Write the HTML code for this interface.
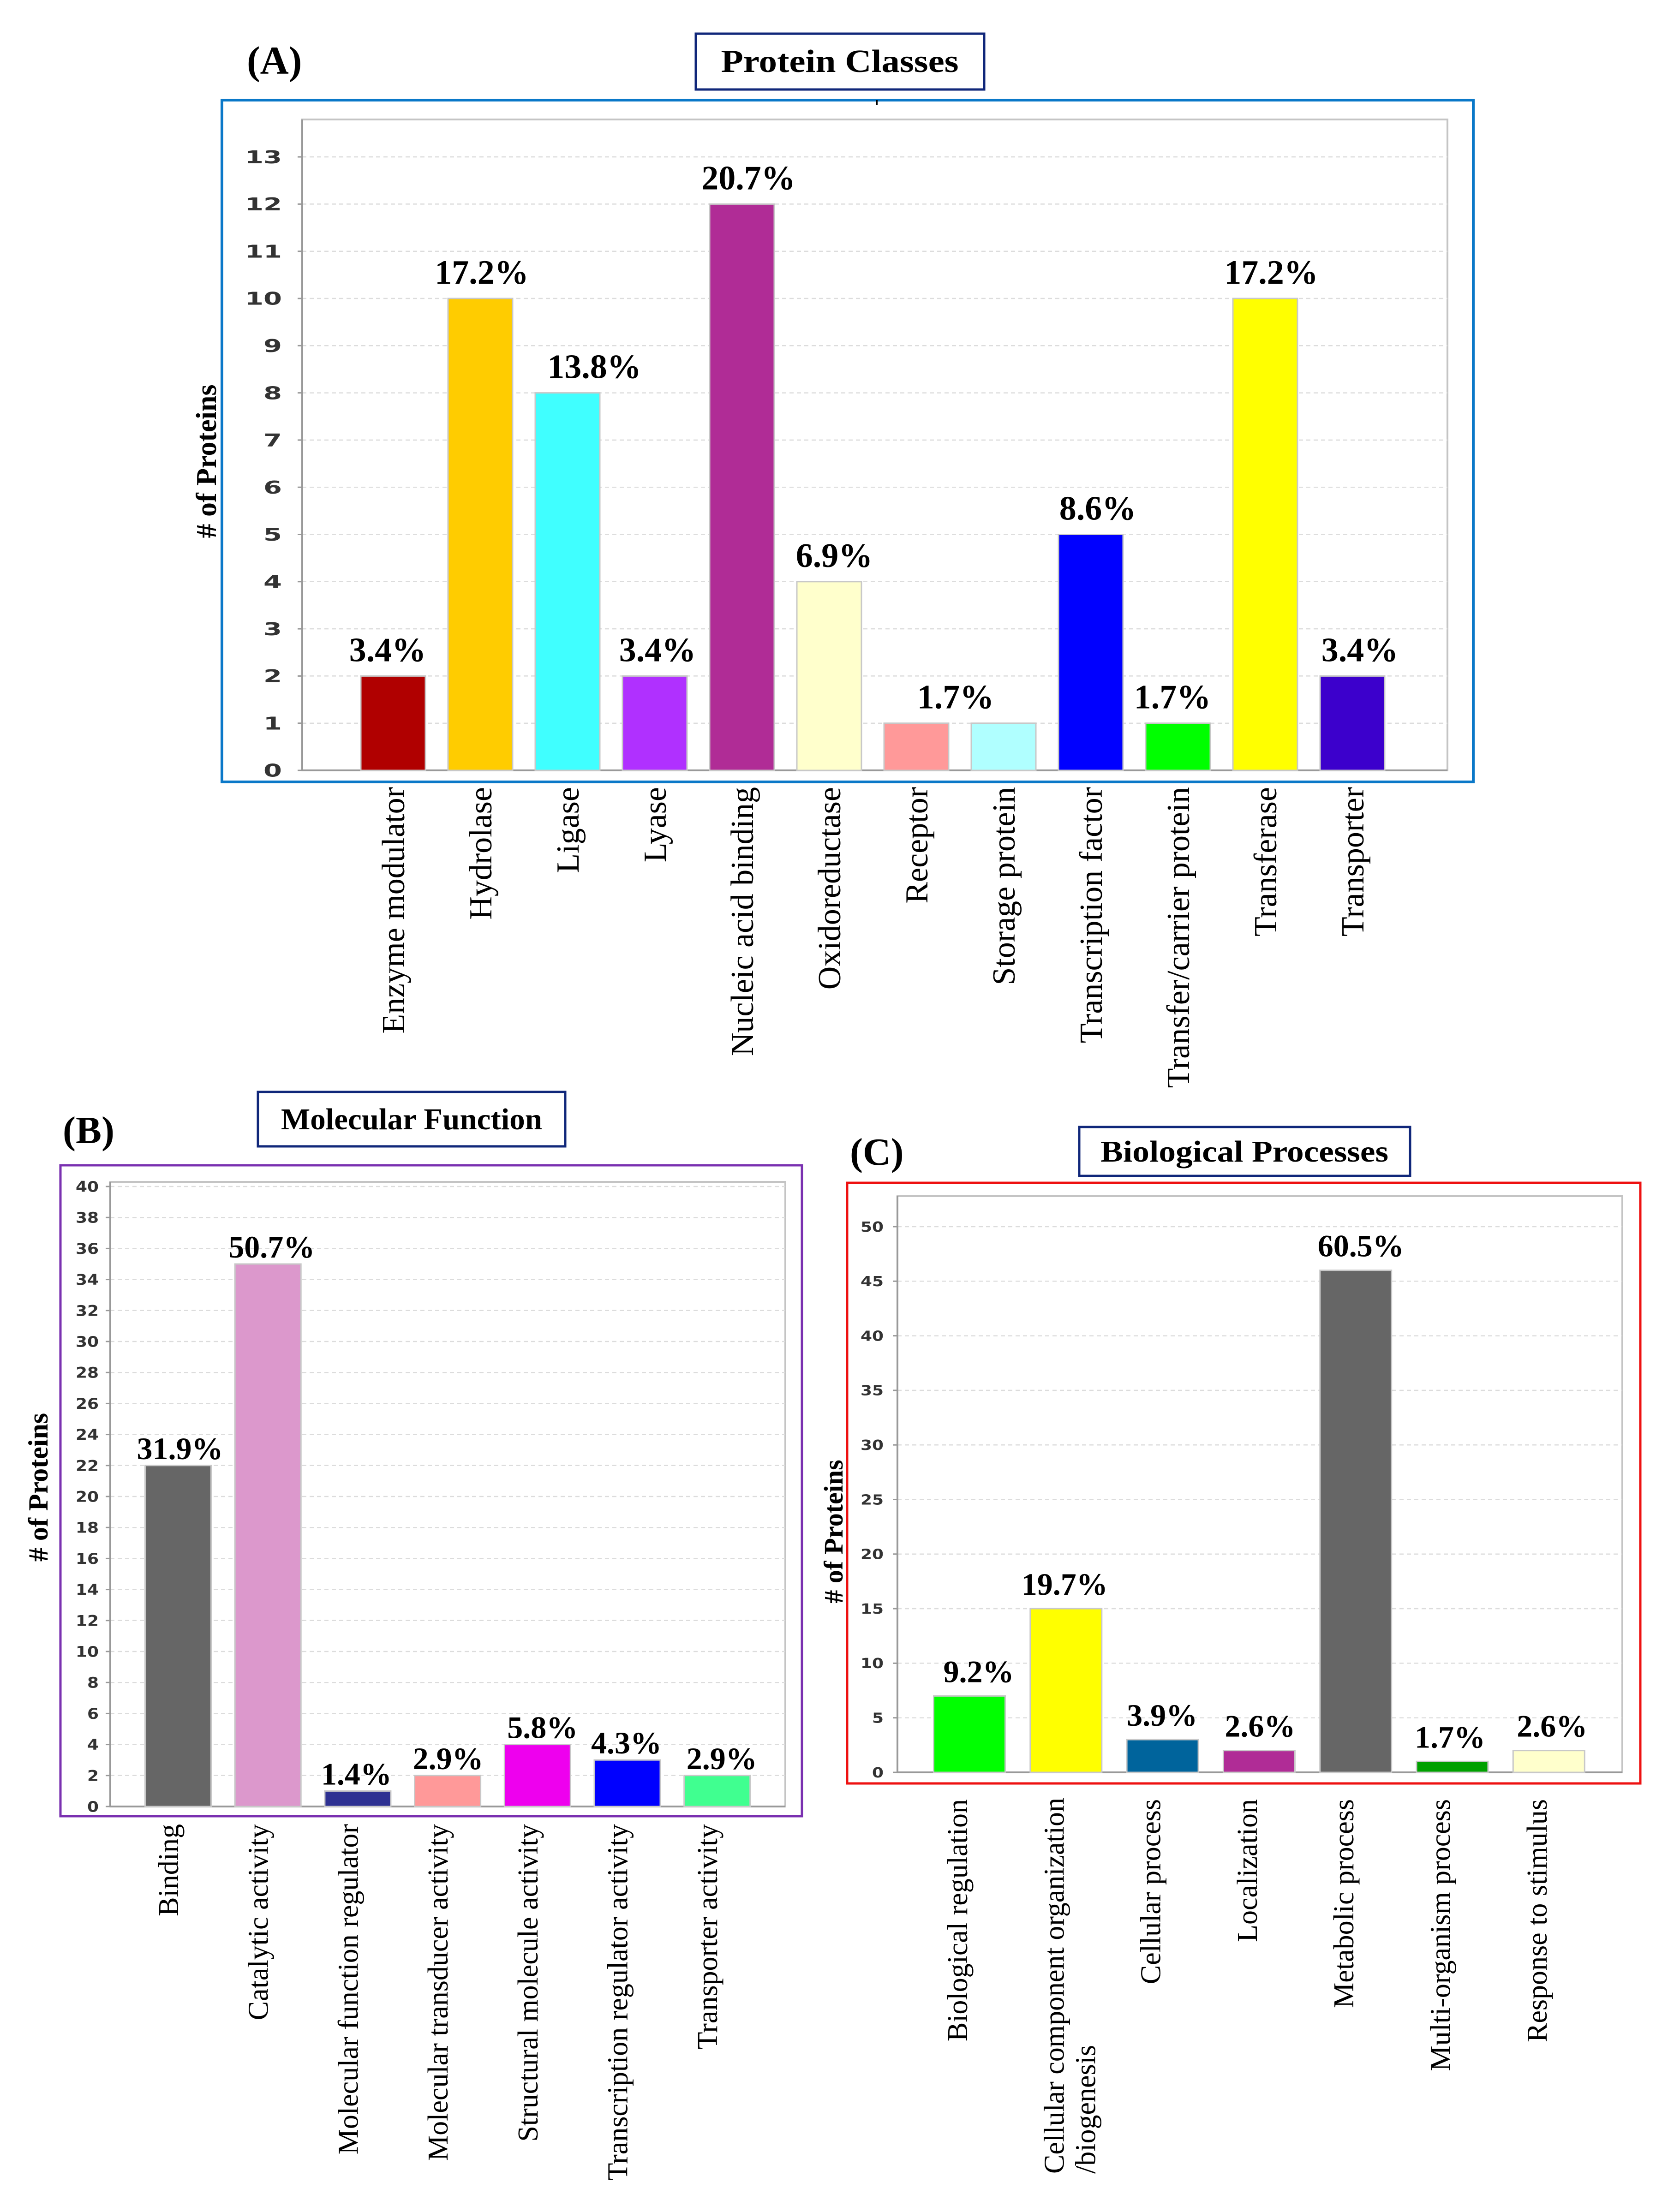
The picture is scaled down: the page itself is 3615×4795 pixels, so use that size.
<!DOCTYPE html>
<html><head><meta charset="utf-8"><style>
html,body{margin:0;padding:0;background:#fff;}
svg{display:block;}
</style></head><body>
<svg id="fig" xmlns="http://www.w3.org/2000/svg" width="3615" height="4795" viewBox="0 0 3615 4795">
<rect x="0" y="0" width="3615" height="4795" fill="#fff"/>
<!-- Panel A decorations -->
<text x="535" y="160" font-family="Liberation Serif, serif" font-weight="bold" font-size="86">(A)</text>
<rect x="1508" y="73" width="625" height="121" fill="#fff" stroke="#10277a" stroke-width="5"/>
<text x="1820" y="156" text-anchor="middle" font-family="Liberation Serif, serif" font-weight="bold" font-size="70" textLength="515" lengthAdjust="spacingAndGlyphs">Protein Classes</text>
<rect x="481" y="217" width="2712" height="1478" fill="none" stroke="#0a78c8" stroke-width="6"/>
<line x1="1900" y1="217" x2="1900" y2="228" stroke="#000" stroke-width="4"/>
<!-- Panel B decorations -->
<text x="136" y="2478" font-family="Liberation Serif, serif" font-weight="bold" font-size="84">(B)</text>
<rect x="559" y="2367" width="666" height="118" fill="#fff" stroke="#10277a" stroke-width="5"/>
<text x="892" y="2448" text-anchor="middle" font-family="Liberation Serif, serif" font-weight="bold" font-size="66" textLength="566" lengthAdjust="spacingAndGlyphs">Molecular Function</text>
<rect x="131" y="2526" width="1607" height="1411" fill="none" stroke="#7a30b0" stroke-width="5"/>
<!-- Panel C decorations -->
<text x="1842" y="2525" font-family="Liberation Serif, serif" font-weight="bold" font-size="84">(C)</text>
<rect x="2339" y="2443" width="717" height="106" fill="#fff" stroke="#10277a" stroke-width="5"/>
<text x="2697" y="2518" text-anchor="middle" font-family="Liberation Serif, serif" font-weight="bold" font-size="66" textLength="624" lengthAdjust="spacingAndGlyphs">Biological Processes</text>
<rect x="1836" y="2564" width="1719" height="1302" fill="none" stroke="#ee1111" stroke-width="5"/>
<g id="charts"></g>
</svg>
<script>
// ---------- Chart A data ----------
const catsA = ["Enzyme modulator","Hydrolase","Ligase","Lyase","Nucleic acid binding","Oxidoreductase","Receptor","Storage protein","Transcription factor","Transfer/carrier protein","Transferase","Transporter"];
const valsA = [2,10,8,2,12,4,1,1,5,1,10,2];
const pctA = ["3.4%","17.2%","13.8%","3.4%","20.7%","6.9%","1.7%","","8.6%","1.7%","17.2%","3.4%"];
const ticksA = [0,1,2,3,4,5,6,7,8,9,10,11,12,13];
const colorsA = ["#b00000","#ffcc00","#40ffff","#b030ff","#b02c96","#ffffcc","#ff9999","#b0ffff","#0000ff","#00ff00","#ffff00","#3c00cc"];
const pctDxA = [-12,3,58,6,14,11,85,0,15,-12,13,16];
// ---------- Chart B data ----------
const catsB = ["Binding","Catalytic activity","Molecular function regulator","Molecular transducer activity","Structural molecule activity","Transcription regulator activity","Transporter activity"];
const valsB = [22,35,1,2,4,3,2];
const pctB = ["31.9%","50.7%","1.4%","2.9%","5.8%","4.3%","2.9%"];
const ticksB = [0,2,4,6,8,10,12,14,16,18,20,22,24,26,28,30,32,34,36,38,40];
const colorsB = ["#666666","#dc98cc","#2e3192","#ff9999","#ee00ee","#0000ff","#40ff90"];
const pctDxB = [4,8,-3,1,11,-2,10];
// ---------- Chart C data ----------
const catsC = ["Biological  regulation","Cellular component organization|/biogenesis","Cellular  process","Localization","Metabolic process","Multi-organism process","Response to stimulus"];
const valsC = [7,15,3,2,46,1,2];
const pctC = ["9.2%","19.7%","3.9%","2.6%","60.5%","1.7%","2.6%"];
const ticksC = [0,5,10,15,20,25,30,35,40,45,50];
const colorsC = ["#00ff00","#ffff00","#00649c","#b02c96","#666666","#00a000","#ffffcc"];
const pctDxC = [20,-3,-1,2,11,-5,7];

const NS = "http://www.w3.org/2000/svg";
const root = document.getElementById("charts");
function mk(tag, attrs, parent) {
  const e = document.createElementNS(NS, tag);
  for (const k in attrs) e.setAttribute(k, attrs[k]);
  (parent || root).appendChild(e);
  return e;
}

function drawChart(p, cats, vals, pcts, ticks, colors, pctDx) {
  const g = mk("g", {});
  
  
  const yScale = v => p.y0 - v * p.unit;
  const xScale = i => p.xc0 + i * p.step;
  const bg = mk("rect", {x:p.left, y:p.top, width:p.right-p.left, height:p.y0-p.top, fill:"#fff", stroke:"#c4c4c4", "stroke-width":4}, g);
  
  
  ticks.forEach(t => {
    const y = yScale(t);
    if (t > 0) {
      const gl = mk("line", {x1:p.left, x2:p.right, y1:y, y2:y, stroke:"#dcdcdc", "stroke-width":2.5, "stroke-dasharray":"9 7"}, g);
      
      
    }
    const tk = mk("line", {x1:p.left-10, x2:p.left, y1:y, y2:y, stroke:"#999", "stroke-width":3}, g);
    
    
    const s = String(t);
    const tl = mk("text", {x:p.left-p.tickGap, y:y + p.tickFont*0.36, "text-anchor":"end", "font-family":"DejaVu Sans, sans-serif", "font-weight":"bold", "font-size":p.tickFont, fill:"#333", textLength:p.tickCharW*s.length, lengthAdjust:"spacingAndGlyphs"}, g);
    tl.textContent = s;
    
    
  });
  const ax = mk("line", {x1:p.left, x2:p.left, y1:p.top, y2:p.y0, stroke:"#999", "stroke-width":4}, g);
  
  
  const bx = mk("line", {x1:p.left, x2:p.right, y1:p.y0, y2:p.y0, stroke:"#999", "stroke-width":4}, g);
  
  
  vals.forEach((v, i) => {
    const cx = xScale(i);
    const r = mk("rect", {x:cx - p.bw/2, y:yScale(v), width:p.bw, height:p.y0 - yScale(v), fill:colors[i], stroke:"#c8c8c8", "stroke-width":3}, g);
    
    
    if (pcts[i]) {
      const t = mk("text", {x:cx + pctDx[i], y:yScale(v) - p.pctGap, "text-anchor":"middle", "font-family":"Liberation Serif, serif", "font-weight":"bold", "font-size":p.pctFont}, g);
      t.textContent = pcts[i];
      
      
    }
    const lines = cats[i].split("|");
    lines.forEach((ln, k) => {
      const bx2 = cx + p.labDx + k * p.labFont * 1.1;
      const ly = lines.length > 1 ? p.labTop + p.multiLen : p.labTop;
      const t = mk("text", {x:bx2, y:ly, "text-anchor":lines.length > 1 ? "start" : "end", "font-family":"Liberation Serif, serif", "font-size":p.labFont, transform:"rotate(-90 " + bx2 + " " + ly + ")", "xml:space":"preserve"}, g);
      t.textContent = ln;
      
      
    });
  });
  const yt = mk("text", {x:p.ytX, y:p.ytY, "text-anchor":"middle", "font-family":"Liberation Serif, serif", "font-weight":"bold", "font-size":p.ytFont, transform:"rotate(-90 " + p.ytX + " " + p.ytY + ")"}, g);
  yt.textContent = "# of Proteins";
  
  
}

drawChart({name:"protein-classes", left:655, right:3137, top:259, y0:1670, unit:102.3, xc0:852, step:189, bw:140,
  tickFont:38, tickCharW:40, tickGap:44, pctFont:74, pctGap:32, labFont:70, labDx:24, labTop:1706, multiLen:0,
  ytX:468, ytY:1000, ytFont:62}, catsA, valsA, pctA, ticksA, colorsA, pctDxA);

drawChart({name:"molecular-function", left:239, right:1702, top:2562, y0:3916, unit:33.6, xc0:386, step:194.7, bw:143,
  tickFont:32, tickCharW:25, tickGap:25, pctFont:68, pctGap:14, labFont:62, labDx:0, labTop:3954, multiLen:0,
  ytX:103, ytY:3224, ytFont:60}, catsB, valsB, pctB, ticksB, colorsB, pctDxB);

drawChart({name:"biological-processes", left:1945, right:3516, top:2593, y0:3842, unit:23.66, xc0:2101, step:209.3, bw:155,
  tickFont:30, tickCharW:25, tickGap:30, pctFont:68, pctGap:30, labFont:62, labDx:-5, labTop:3900, multiLen:812,
  ytX:1826, ytY:3320, ytFont:58}, catsC, valsC, pctC, ticksC, colorsC, pctDxC);
</script>
</body></html>
